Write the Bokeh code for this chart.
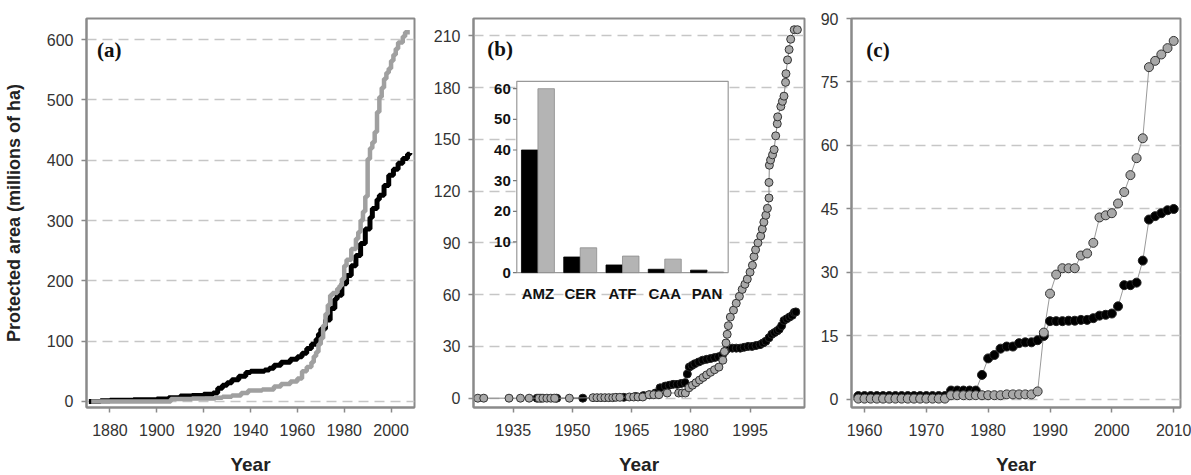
from bokeh.plotting import figure
from bokeh.models import Range1d, FixedTicker, Label
from bokeh.layouts import row
from bokeh.core.properties import value
from bokeh.embed import file_html
from bokeh.resources import INLINE

# ---------------- data ----------------
# panel (a): cumulative protected area (millions of ha), step series
A_YEARS_BLACK = [1871, 1876, 1880, 1890, 1900, 1905, 1910, 1915, 1920, 1924,
                 1926, 1928, 1930, 1932, 1935, 1938, 1940, 1946, 1948, 1950,
                 1953, 1957, 1960, 1962, 1964, 1966, 1968, 1969, 1970, 1972,
                 1974, 1976, 1977, 1979, 1981, 1983, 1985, 1987, 1989, 1991,
                 1992, 1994, 1995, 1997, 1999, 2001, 2003, 2005, 2007, 2008]
A_BLACK = [0, 1, 2, 3, 4, 6, 9, 10, 12, 14,
           22, 27, 31, 36, 42, 48, 50, 52, 55, 60,
           65, 70, 74, 80, 88, 95, 103, 112, 120, 135,
           154, 170, 176, 195, 209, 225, 242, 262, 286, 305,
           320, 335, 342, 358, 375, 385, 395, 403, 410, 412]
A_YEARS_GRAY = [1872, 1905, 1906, 1915, 1925, 1928, 1932, 1936, 1939, 1945,
                1950, 1953, 1957, 1960, 1962, 1964, 1966, 1967, 1968, 1969,
                1970, 1971, 1972, 1973, 1974, 1975, 1977, 1978, 1979, 1980,
                1981, 1983, 1985, 1986, 1987, 1988, 1989, 1990, 1991, 1992,
                1993, 1994, 1995, 1996, 1997, 1998, 1999, 2000, 2001, 2002,
                2003, 2005, 2006, 2008]
A_GRAY = [0, 0, 4, 5, 6, 8, 10, 14, 18, 20,
          25, 29, 33, 38, 50, 57, 65, 75, 82, 95,
          105, 126, 145, 160, 176, 180, 187, 192, 203, 225,
          235, 253, 270, 281, 300, 315, 340, 402, 420, 430,
          447, 480, 505, 520, 535, 545, 552, 565, 575, 585,
          595, 605, 612, 612]

# panel (b)
B_YEARS_GRAY = [1926.0, 1927.5, 1933.9, 1936.8, 1939.0, 1941.5, 1942.5, 1943.5, 1944.5, 1945.5,
                1949.2, 1955.2, 1956.2, 1957.2, 1958.2, 1959.2, 1960.2, 1961.0, 1962.0, 1964.4,
                1965.5, 1966.6, 1967.8, 1969.4, 1970.6, 1971.9, 1974.0, 1976.9, 1977.8, 1978.6,
                1979.5, 1980.4, 1981.3, 1982.2, 1983.1, 1984.0, 1985.0, 1986.0, 1987.1, 1988.1,
                1988.5, 1988.9, 1989.2, 1989.5, 1990.0, 1990.8, 1991.5, 1992.3, 1993.0, 1993.7,
                1994.3, 1995.0, 1995.6, 1996.0, 1996.4, 1997.0, 1997.7, 1998.1, 1998.5, 1999.0,
                1999.4, 1999.8, 1999.8, 1999.9, 2000.2, 2000.7, 2001.1, 2001.5, 2001.9, 2002.0,
                2002.8, 2003.2, 2003.6, 2004.0, 2004.1, 2004.5, 2004.9, 2005.3, 2006.2, 2007.0]
B_GRAY = [0, 0, 0, 0, 0, 0, 0, 0, 0, 0,
          0, 0.3, 0.3, 0.3, 0.3, 0.3, 0.3, 0.5, 0.5, 0.7,
          0.7, 0.7, 0.7, 2, 2, 2, 3, 3, 3, 3,
          6, 7.5, 9, 10.5, 12, 13.5, 15, 16.5, 18, 22,
          27, 32, 37, 42, 47, 51, 55, 59, 63, 66,
          69, 73, 77, 82, 86, 90, 94, 98, 102, 106,
          110, 116, 125, 135, 138, 141, 144, 152, 159, 163,
          169, 172, 175, 183, 188, 196, 202, 208, 213.5, 213.5]
B_YEARS_BLACK = [1941.0, 1942.0, 1946.0, 1952.6, 1963.0, 1966.0, 1968.0, 1969.5, 1971.0, 1972.2,
                 1973.5, 1974.5, 1975.5, 1976.5, 1977.5, 1978.5, 1979.1, 1979.6, 1980.3, 1981.0,
                 1982.0, 1983.0, 1984.0, 1985.0, 1986.0, 1987.0, 1988.0, 1988.6, 1989.2, 1990.5,
                 1991.5, 1992.5, 1993.5, 1994.5, 1995.5, 1996.5, 1997.5, 1998.3, 1999.0, 1999.8,
                 2000.5, 2001.2, 2001.9, 2002.4, 2003.0, 2003.6, 2004.3, 2005.0, 2005.7, 2006.2,
                 2006.6]
B_BLACK = [0, 0, 0, 0, 0.5, 1, 1.5, 2, 3, 6,
           7, 7.5, 8, 8, 8.5, 9, 14, 18, 19, 20,
           21, 22, 22.5, 23, 23.5, 24, 25, 27, 28.5, 29,
           29, 29, 29.5, 30, 30, 30.5, 31, 32, 33, 35,
           37, 38, 39, 40, 42, 45, 46, 47, 48, 49.7,
           50]

# inset of panel (b)
INSET_CATS = ["AMZ", "CER", "ATF", "CAA", "PAN"]
INSET_BLACK = [40, 5.1, 2.5, 1.1, 0.8]
INSET_GRAY = [60, 8.1, 5.4, 4.4, 0.2]
INSET_TICKS = [0, 10, 20, 30, 40, 50, 60]

# panel (c)
C_YEARS = [1959, 1960, 1961, 1962, 1963, 1964, 1965, 1966, 1967, 1968,
           1969, 1970, 1971, 1972, 1973, 1974, 1975, 1976, 1977, 1978,
           1979, 1980, 1981, 1982, 1983, 1984, 1985, 1986, 1987, 1988,
           1989, 1990, 1991, 1992, 1993, 1994, 1995, 1996, 1997, 1998,
           1999, 2000, 2001, 2002, 2003, 2004, 2005, 2006, 2007, 2008,
           2009, 2010]
C_GRAY = [0.2, 0.2, 0.2, 0.2, 0.2, 0.2, 0.2, 0.2, 0.2, 0.2,
          0.2, 0.2, 0.2, 0.2, 0.2, 1.0, 1.0, 1.0, 1.0, 1.0,
          1.0, 1.0, 1.0, 1.0, 1.2, 1.2, 1.2, 1.2, 1.2, 1.9,
          15.8, 25, 29.5, 31, 31, 31, 34, 34.5, 37, 43,
          43.5, 44, 46.3, 49, 53, 57, 61.7, 78.5, 80, 81.5,
          83, 84.7]
C_BLACK = [0.8, 0.8, 0.8, 0.8, 0.8, 0.8, 0.8, 0.8, 0.8, 0.8,
           0.8, 0.8, 0.8, 0.8, 0.8, 2.1, 2.1, 2.1, 2.1, 2.1,
           5.8, 9.7, 10.5, 12.0, 12.5, 12.5, 13.3, 13.5, 13.5, 14.0,
           15.0, 18.5, 18.5, 18.5, 18.6, 18.6, 18.8, 18.8, 19.2, 19.8,
           20.0, 20.3, 22.0, 27.0, 27.0, 27.6, 32.8, 42.5, 43.3, 44.0,
           44.7, 45.0]

A_XTICKS = [1880, 1900, 1920, 1940, 1960, 1980, 2000]
A_YTICKS = [0, 100, 200, 300, 400, 500, 600]
B_XTICKS = [1935, 1950, 1965, 1980, 1995]
B_YTICKS = [0, 30, 60, 90, 120, 150, 180, 210]
C_XTICKS = [1960, 1970, 1980, 1990, 2000, 2010]
C_YTICKS = [0, 15, 30, 45, 60, 75, 90]

# ---------------- style ----------------
FONT = "Liberation Sans"
FRAME = "#8a8a8a"
GRAYFILL = "#a8a8a8"
GRID = "#c6c6c6"


def base_fig(xr, yr, xticks, yticks, fw, mbl, mbr):
    p = figure(x_range=Range1d(*xr), y_range=Range1d(*yr),
               frame_width=fw, frame_height=389,
               min_border_left=mbl, min_border_right=mbr,
               min_border_top=18, min_border_bottom=67,
               output_backend="svg", toolbar_location=None,
               background_fill_color="white", border_fill_color="white")
    p.xaxis.ticker = FixedTicker(ticks=xticks)
    p.yaxis.ticker = FixedTicker(ticks=yticks)
    p.xgrid.visible = False
    p.ygrid.grid_line_color = GRID
    p.ygrid.grid_line_dash = "10 6"
    p.ygrid.grid_line_width = 1.5
    p.outline_line_color = FRAME
    p.outline_line_width = 2
    for ax in (p.xaxis, p.yaxis):
        ax.axis_line_color = FRAME
        ax.axis_line_width = 2
        ax.major_tick_line_color = FRAME
        ax.major_tick_line_width = 1.5
        ax.major_tick_out = 5
        ax.major_tick_in = 0
        ax.minor_tick_line_color = None
        ax.major_label_text_font = FONT
        ax.major_label_text_font_size = "16px"
        ax.major_label_text_color = "#333333"
        ax.major_label_standoff = 8
    p.xaxis.major_label_standoff = 11
    p.xaxis.axis_label = "Year"
    p.xaxis.axis_label_text_font = FONT
    p.xaxis.axis_label_text_font_size = "19px"
    p.xaxis.axis_label_text_font_style = "bold"
    p.xaxis.axis_label_text_color = "#222222"
    p.xaxis.axis_label_standoff = 15
    return p


def panel_label(p, txt, x, y):
    p.add_layout(Label(x=x, y=y, text=txt, text_font="Liberation Serif",
                       text_font_style="bold", text_font_size="21px",
                       text_color="#111111", text_baseline="top"))


# ---------------- panel (a) ----------------
pa = base_fig((1870, 2010), (-10, 635), A_XTICKS, A_YTICKS, 328, 86, 16)
pa.yaxis.axis_label = "Protected area (millions of ha)"
pa.yaxis.axis_label_text_font = FONT
pa.yaxis.axis_label_text_font_size = "18px"
pa.yaxis.axis_label_text_font_style = "bold"
pa.yaxis.axis_label_text_color = "#222222"
pa.yaxis.axis_label_standoff = 20
pa.step(A_YEARS_BLACK, A_BLACK, mode="after", line_color="#000000", line_width=5)
pa.step(A_YEARS_GRAY, A_GRAY, mode="after", line_color="#a0a0a0", line_width=4.5)
panel_label(pa, "(a)", 1874.5, 603)

# ---------------- panel (b) ----------------
pb = base_fig((1924.9, 2008.8), (-5.4, 220), B_XTICKS, B_YTICKS, 331, 41, 10)
pb.line(B_YEARS_BLACK, B_BLACK, line_color="#555555", line_width=1)
pb.scatter(B_YEARS_BLACK, B_BLACK, size=8, fill_color="#000000", line_color="#222222", line_width=1)
pb.line(B_YEARS_GRAY, B_GRAY, line_color="#888888", line_width=1)
pb.scatter(B_YEARS_GRAY, B_GRAY, size=8, fill_color=GRAYFILL, line_color="#333333", line_width=1)
panel_label(pb, "(b)", 1928.4, 209)

# inset drawn through its own scales in the panel-(b) frame
pb.extra_x_ranges = {"ix": Range1d(-1.024, 6.805)}
pb.extra_y_ranges = {"iy": Range1d(-44.0, 82.9)}
n = len(INSET_CATS)
pb.quad(left=[0], right=[n], bottom=[0], top=[62.4], x_range_name="ix", y_range_name="iy",
        fill_color="white", line_color="#999999", line_width=1.2)
xb = [i + 0.305 for i in range(n)]
xg = [i + 0.695 for i in range(n)]
pb.vbar(x=xb, top=INSET_BLACK, bottom=0, width=0.39, x_range_name="ix", y_range_name="iy",
        fill_color="#000000", line_color="#000000", line_width=0.8)
pb.vbar(x=xg, top=INSET_GRAY, bottom=0, width=0.39, x_range_name="ix", y_range_name="iy",
        fill_color="#b4b4b4", line_color="#8c8c8c", line_width=0.8)
pb.segment(x0=[0] * len(INSET_TICKS), y0=INSET_TICKS, x1=[-0.09] * len(INSET_TICKS), y1=INSET_TICKS,
           x_range_name="ix", y_range_name="iy", line_color="#777777", line_width=1.2)
pb.text(x=[0] * len(INSET_TICKS), y=INSET_TICKS, text=[str(t) for t in INSET_TICKS],
        x_range_name="ix", y_range_name="iy", x_offset=-6,
        text_font=value(FONT), text_font_style="bold", text_font_size="15px",
        text_color="#111111", text_align="right", text_baseline="middle")
pb.text(x=[i + 0.5 for i in range(n)], y=[0] * n, text=INSET_CATS,
        x_range_name="ix", y_range_name="iy", y_offset=12,
        text_font=value(FONT), text_font_style="bold", text_font_size="15px",
        text_color="#111111", text_align="center", text_baseline="top")

# ---------------- panel (c) ----------------
pc = base_fig((1957.9, 2011.1), (-1.9, 90), C_XTICKS, C_YTICKS, 329, 37, 13)
pc.line(C_YEARS, C_BLACK, line_color="#9a9a9a", line_width=1)
pc.line(C_YEARS, C_GRAY, line_color="#9a9a9a", line_width=1)
pc.scatter(C_YEARS, C_BLACK, size=9, fill_color="#000000", line_color="#222222", line_width=1)
pc.scatter(C_YEARS, C_GRAY, size=9, fill_color=GRAYFILL, line_color="#333333", line_width=1)
panel_label(pc, "(c)", 1960.3, 85.5)

layout = row(pa, pb, pc)
open("out.html", "w").write(file_html(layout, INLINE))
